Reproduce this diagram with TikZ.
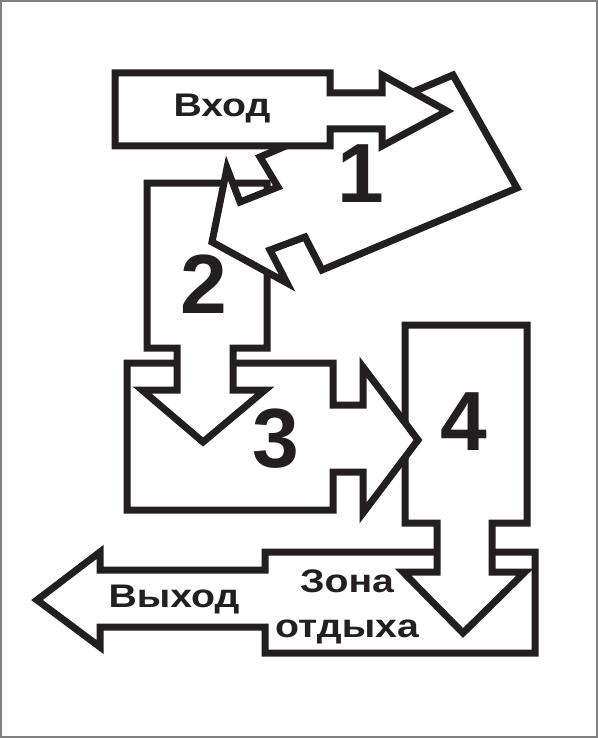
\documentclass[tikz,border=0pt]{standalone}
\usepackage{fontspec}
\setmainfont{Liberation Sans}
\definecolor{planline}{HTML}{231F20}
\tikzset{
  zone/.style={
    draw=planline,
    fill=white,
    line width=5.25pt,
    line join=miter
  },
  zone label/.style={
    font=\bfseries\fontsize{24.5}{24.5}\selectfont,
    text=planline,
    inner sep=0pt,
    anchor=base,
    xscale=1.2
  },
  zone number/.style={
    font=\bfseries\fontsize{63}{63}\selectfont,
    text=planline,
    inner sep=0pt,
    anchor=base
  }
}

\begin{document}
\begin{tikzpicture}[x=0.75pt, y=-0.75pt]
  % рамка листа
  \useasboundingbox (0,0) rectangle (598,738);
  \draw[gray, line width=1.5pt] (1,1) rectangle (597,737);

  % ==== 1. Зона отдыха и выход ====
  \draw[zone] (265,552) -- (535,552) -- (535,653) -- (265,653) -- (265,627)
    -- (100,627) -- (100,647) -- (37,600) -- (100,552) -- (100,570)
    -- (265,570) -- cycle;

  % ==== 2. Зона 4 со стрелкой вниз ====
  \draw[zone] (405,325) -- (527,325) -- (527,523) -- (492,523) -- (492,572)
    -- (525,572) -- (463,633) -- (403,572) -- (437,572) -- (437,523)
    -- (405,523) -- cycle;

  % ==== 3. Зона 3 со стрелкой вправо ====
  \draw[zone] (127,363) -- (333,363) -- (333,405) -- (363,405) -- (363,367)
    -- (418,440) -- (363,513) -- (363,472) -- (333,472) -- (333,510)
    -- (127,510) -- cycle;

  % ==== 4. Зона 2 со стрелкой вниз ====
  \draw[zone] (147,183) -- (267,183) -- (267,348) -- (233,348) -- (233,390)
    -- (265,390) -- (203,442) -- (142,390) -- (177,390) -- (177,348)
    -- (147,348) -- cycle;

  % ==== 5. Зона 1 (наклонная) со стрелкой к зоне 2 ====
  \draw[zone] (260,157) -- (453,75) -- (517,188) -- (322,270) -- (305,237)
    -- (270,250) -- (287,283) -- (212,242) -- (227,168) -- (240,202)
    -- (278,187) -- cycle;

  % ==== 6. Вход ====
  \draw[zone] (115,73) -- (330,73) -- (330,93) -- (382,93) -- (382,75)
    -- (447,111) -- (382,146) -- (382,129) -- (330,129) -- (330,146)
    -- (115,146) -- cycle;

  % подписи
  \node[zone label] (vhod) at (222,117) {Вход};
  \node[zone label] (vyhod) at (174,607) {Выход};
  \node[zone label] (zona) at (347,592) {Зона};
  \node[zone label] (otdyh) at (347,637) {отдыха};

  % номера зон
  \node[zone number] (n1) at (361,202) {1};
  \node[zone number] (n2) at (204,313) {2};
  \node[zone number] (n3) at (276,467) {3};
  \node[zone number] (n4) at (464,450) {4};
\end{tikzpicture}
\end{document}
